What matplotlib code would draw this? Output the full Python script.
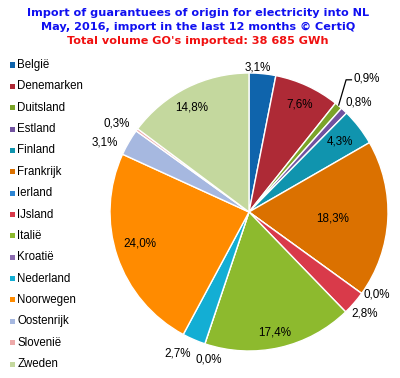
import matplotlib
matplotlib.use("Agg")
import matplotlib.pyplot as plt
from matplotlib.patches import Rectangle
import numpy as np

categories = ["België", "Denemarken", "Duitsland", "Estland", "Finland", "Frankrijk",
              "Ierland", "IJsland", "Italië", "Kroatië", "Nederland", "Noorwegen",
              "Oostenrijk", "Slovenië", "Zweden"]
values = [3.1, 7.6, 0.9, 0.8, 4.3, 18.3, 0.0, 2.8, 17.4, 0.0, 2.7, 24.0, 3.1, 0.3, 14.8]
labels = ["3,1%", "7,6%", "0,9%", "0,8%", "4,3%", "18,3%", "0,0%", "2,8%", "17,4%",
          "0,0%", "2,7%", "24,0%", "3,1%", "0,3%", "14,8%"]
title_lines = ["Import of guarantuees of origin for electricity into NL",
               "May, 2016, import in the last 12 months © CertiQ"]
subtitle = "Total volume GO's imported: 38 685 GWh"

colors = ["#0F64AC", "#AE2A36", "#7BA428", "#7152A0", "#1094AE", "#DB7100",
          "#2E86D4", "#D93A4A", "#8DBA2E", "#8C6BB0", "#13AED4", "#FF8B00",
          "#A6B8E0", "#EDA9A9", "#C4D89E"]

# label placement: radial factor and angle offset (deg) relative to wedge middle
lab_r = [1.052, 0.866, 1.30, 1.122, 0.835, 0.605, 1.09, 1.10, 0.875, 1.09, 1.13, 0.813, 1.158, 1.153, 0.866]
lab_da = [2.1, -0.3, 0, -1.4, 0.8, -0.3, 3.7, 0.2, -0.7, 3.0, -3.6, -3.0, 3.8, 1.9, 2.0]

W, H = 400, 378
fig = plt.figure(figsize=(W / 100, H / 100), dpi=100)
fig.patch.set_facecolor("white")

cx, cy, R = 249, 212, 139
ax = fig.add_axes([(cx - R) / W, 1 - (cy + R) / H, 2 * R / W, 2 * R / H])
wedges, _ = ax.pie(values, colors=colors, startangle=90, counterclock=False, radius=1,
                   wedgeprops=dict(edgecolor="white", linewidth=1.0))
ax.set_xlim(-1, 1)
ax.set_ylim(-1, 1)
ax.set_aspect("equal")
ax.axis("off")

for i, w in enumerate(wedges):
    m0 = (w.theta1 + w.theta2) / 2
    if categories[i] == "Duitsland":
        a0 = np.radians(m0)
        a1 = np.radians(m0 + 3.8)
        p0 = (1.0 * np.cos(a0), 1.0 * np.sin(a0))
        p1 = (1.18 * np.cos(a1), 1.18 * np.sin(a1))
        p2 = (p1[0] + 0.043, p1[1])
        ax.plot([p0[0], p1[0], p2[0]], [p0[1], p1[1], p2[1]],
                color="black", lw=0.9, clip_on=False, solid_capstyle="butt")
        ax.text(p2[0] + 0.012, p2[1] + 0.02, labels[i], ha="left", va="center_baseline",
                fontsize=8.4, family="Liberation Sans", color="black", clip_on=False)
        continue
    mid = m0 + lab_da[i]
    r = lab_r[i]
    x, y = r * np.cos(np.radians(mid)), r * np.sin(np.radians(mid))
    ax.text(x, y, labels[i], ha="center", va="center_baseline", fontsize=8.4,
            family="Liberation Sans", color="black", clip_on=False)

tkw = dict(ha="center", va="center", fontsize=8.1, fontweight="bold", family="DejaVu Sans")
fig.text(0.495, 1 - 13 / H, title_lines[0], color="#1010F0", **tkw)
fig.text(0.495, 1 - 27 / H, title_lines[1], color="#1010F0", **tkw)
fig.text(0.495, 1 - 41 / H, subtitle, color="#F01010", **tkw)

y0, dy = 65, 21.36
for i, name in enumerate(categories):
    yp = y0 + i * dy
    fig.add_artist(Rectangle((9.5 / W, 1 - (yp + 2.5) / H), 5 / W, 5 / H,
                             transform=fig.transFigure, facecolor=colors[i],
                             edgecolor="none"))
    fig.text(17.5 / W, 1 - yp / H, name, ha="left", va="center", fontsize=8.3,
             family="Liberation Sans", color="black")

fig.savefig("out.png", dpi=100, facecolor="white")
